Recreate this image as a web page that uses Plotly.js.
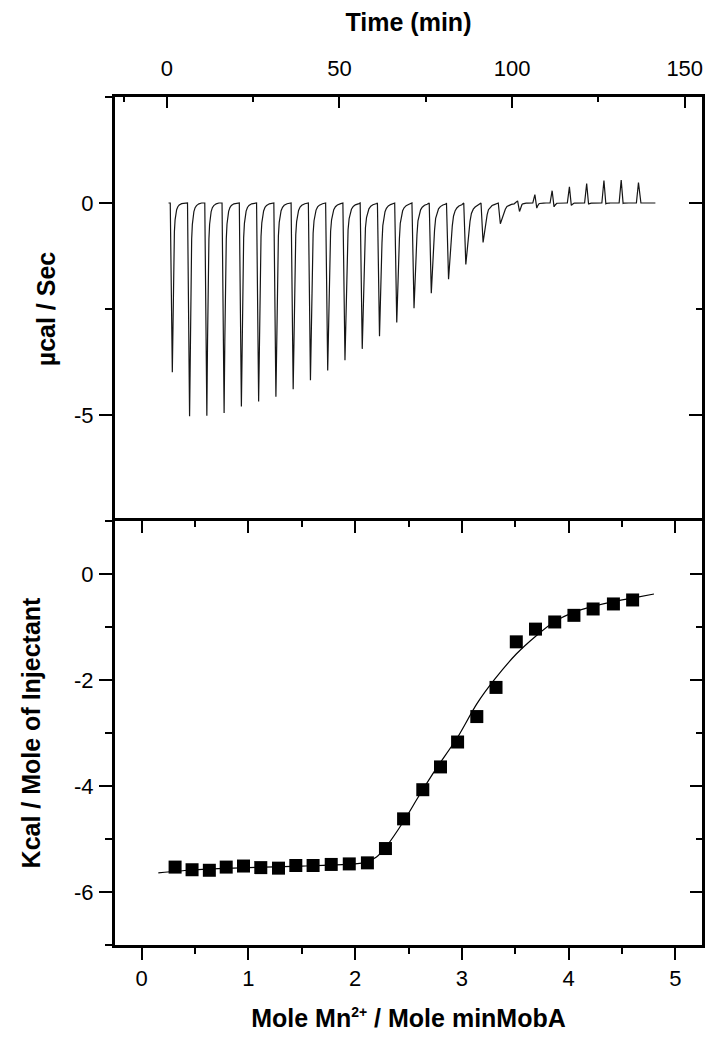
<!DOCTYPE html>
<html>
<head>
<meta charset="utf-8">
<script src="https://cdn.plot.ly/plotly-3.0.1.min.js"></script>
<style>html,body{margin:0;padding:0;background:#fff;}#chart{width:717px;height:1050px;}</style>
</head>
<body>
<div id="chart"></div>
<script>
// ---------- top panel: raw ITC trace ----------
const injTime = [1.6, 6.6, 11.6, 16.6, 21.6, 26.6, 31.6, 36.6, 41.6, 46.6, 51.6, 56.6, 61.6, 66.6,
                 71.6, 76.6, 81.6, 86.6, 91.6, 96.6, 101.6, 106.6, 111.6, 116.6, 121.6, 126.6, 131.6, 136.6];
const peakNeg = [-3.99, -5.03, -5.02, -4.95, -4.80, -4.68, -4.57, -4.39, -4.18, -3.95, -3.71, -3.44, -3.14, -2.82,
                 -2.48, -2.13, -1.80, -1.45, -0.93, -0.49, -0.20, -0.12, -0.09, -0.055, -0.03, -0.02, -0.01, 0];
const peakPos = [0, 0, 0, 0, 0, 0, 0, 0, 0, 0, 0, 0, 0, 0,
                 0, 0, 0, 0, 0, 0, 0.05, 0.20, 0.29, 0.38, 0.46, 0.53, 0.54, 0.48];
const peakWidth = [1.0, 1.0, 1.0, 1.05, 1.1, 1.15, 1.2, 1.25, 1.3, 1.4, 1.5, 1.55, 1.6, 1.7,
                   1.9, 2.1, 2.4, 2.7, 2.6, 3.2, 1.2, 1.0, 1.0, 0.9, 0.8, 0.8, 0.8, 0.8];
// shape of one injection peak (time after peak, fraction of peak depth), read from first peaks
const peakShapeDt   = [0, 0.1, 0.2, 0.3, 0.45, 0.6, 0.8, 1.0, 1.25, 1.6, 2.0, 2.7, 3.5];
const peakShapeFrac = [1, 0.82, 0.65, 0.5, 0.3, 0.17, 0.1, 0.065, 0.04, 0.022, 0.012, 0.004, 0];
const traceStart = 0.5, traceEnd = 141.5;

// ---------- bottom panel: integrated heats ----------
const molarRatio = [0.313, 0.472, 0.634, 0.792, 0.954, 1.116, 1.282, 1.444, 1.606, 1.776, 1.945, 2.115, 2.284,
                    2.454, 2.634, 2.80, 2.96, 3.14, 3.32, 3.51, 3.69, 3.87, 4.05, 4.23, 4.42, 4.60];
const heat = [-5.53, -5.58, -5.59, -5.53, -5.51, -5.54, -5.55, -5.50, -5.50, -5.48, -5.47, -5.45, -5.18,
              -4.62, -4.07, -3.64, -3.17, -2.69, -2.14, -1.28, -1.04, -0.905, -0.78, -0.66, -0.565, -0.49];
const fitX = [0.156, 0.5, 1.0, 1.5, 1.9, 2.1, 2.2, 2.3, 2.45, 2.6, 2.75, 2.96, 3.14, 3.31, 3.51, 3.70, 3.86, 4.05, 4.23, 4.42, 4.61, 4.80];
const fitY = [-5.64, -5.58, -5.54, -5.51, -5.48, -5.44, -5.34, -5.12, -4.68, -4.18, -3.70, -3.08, -2.45, -1.98, -1.51, -1.16, -0.91, -0.72, -0.61, -0.52, -0.45, -0.377];

// ---------- tick labels ----------
const timeTickVals = [0, 50, 100, 150];
const timeTickText = ['0', '50', '100', '150'];
const timeMinor = [-12.5, 25, 75, 125];
const rawTickVals = [0, -5];
const rawTickText = ['0', '-5'];
const rawMinor = [2.5, -2.5, -7.5];
const ratioTickVals = [0, 1, 2, 3, 4, 5];
const ratioTickText = ['0', '1', '2', '3', '4', '5'];
const ratioMinor = [0.5, 1.5, 2.5, 3.5, 4.5];
const heatTickVals = [0, -2, -4, -6];
const heatTickText = ['0', '-2', '-4', '-6'];
const heatMinor = [-1, -3, -5, -7];

// build raw trace
const tx = [traceStart], ty = [0];
for (let i = 0; i < injTime.length; i++) {
  const tp = injTime[i];
  const next = i < injTime.length - 1 ? injTime[i + 1] : traceEnd + 0.6;
  tx.push(tp - 0.6); ty.push(0);
  let t0 = tp;
  if (peakPos[i] > 0) { tx.push(tp); ty.push(peakPos[i]); t0 = tp + 0.55; }
  for (let k = 0; k < peakShapeDt.length; k++) {
    const t = t0 + peakShapeDt[k] * peakWidth[i];
    if (t > next - 0.7) break;
    tx.push(t); ty.push(peakNeg[i] * peakShapeFrac[k]);
  }
}
tx.push(traceEnd); ty.push(0);

const FONT = 'Arial, "Liberation Sans", sans-serif';
const tickFont = {family: FONT, size: 22, color: '#000'};
const titleFont = {family: FONT, size: 25, color: '#000'};

const traces = [
  {x: tx, y: ty, xaxis: 'x2', yaxis: 'y2', type: 'scatter', mode: 'lines',
   line: {color: '#151515', width: 1.2}, hoverinfo: 'skip', showlegend: false},
  {x: fitX, y: fitY, xaxis: 'x', yaxis: 'y', type: 'scatter', mode: 'lines',
   line: {color: '#000', width: 1.2, shape: 'spline', smoothing: 0.8}, hoverinfo: 'skip', showlegend: false},
  {x: molarRatio, y: heat, xaxis: 'x', yaxis: 'y', type: 'scatter', mode: 'markers',
   marker: {symbol: 'square', size: 13, color: '#000'}, hoverinfo: 'skip', showlegend: false},
  {x: [], y: [], xaxis: 'x3', yaxis: 'y3', type: 'scatter', mode: 'markers', hoverinfo: 'skip', showlegend: false},
  {x: [], y: [], xaxis: 'x2', yaxis: 'y4', type: 'scatter', mode: 'markers', hoverinfo: 'skip', showlegend: false}
];

const base = {showgrid: false, zeroline: false, showline: true, linewidth: 3, linecolor: '#000',
              tickcolor: '#000', tickwidth: 2, tickfont: tickFont, fixedrange: true};

const layout = {
  width: 717, height: 1050,
  margin: {l: 115, r: 15, t: 97, b: 105, pad: 0},
  paper_bgcolor: '#fff', plot_bgcolor: '#fff',
  showlegend: false,
  xaxis: Object.assign({}, base, {
    domain: [0, 1], anchor: 'y', range: [-0.25, 5.25], autorange: false,
    tickmode: 'array', tickvals: ratioTickVals, ticktext: ratioTickText,
    ticks: 'outside', ticklen: 12, ticklabelstandoff: 0,
    minor: {tickmode: 'array', tickvals: ratioMinor, ticks: 'outside', ticklen: 6, tickwidth: 2, tickcolor: '#000', showgrid: false},
    title: {text: '<b>Mole Mn<sup><span style="font-size:14px">2+</span></sup> / Mole minMobA</b>', font: titleFont, standoff: 20}
  }),
  xaxis3: Object.assign({}, base, {
    overlaying: 'x', anchor: 'y', side: 'top', range: [-0.25, 5.25], autorange: false,
    tickmode: 'array', tickvals: ratioTickVals, showticklabels: false,
    ticks: 'inside', ticklen: 12,
    minor: {tickmode: 'array', tickvals: ratioMinor, ticks: 'inside', ticklen: 6, tickwidth: 2, tickcolor: '#000', showgrid: false}
  }),
  yaxis: Object.assign({}, base, {
    domain: [0, 0.5], anchor: 'x', range: [-7, 1], autorange: false,
    tickmode: 'array', tickvals: heatTickVals, ticktext: heatTickText,
    ticks: 'outside', ticklen: 13, ticklabelstandoff: 1,
    minor: {tickmode: 'array', tickvals: heatMinor, ticks: 'outside', ticklen: 7, tickwidth: 2, tickcolor: '#000', showgrid: false},
    title: {text: '<b>Kcal / Mole of Injectant</b>', font: titleFont, standoff: 27}
  }),
  yaxis3: Object.assign({}, base, {
    overlaying: 'y', anchor: 'x', side: 'right', range: [-7, 1], autorange: false,
    tickmode: 'array', tickvals: heatTickVals, showticklabels: false,
    ticks: 'inside', ticklen: 12,
    minor: {tickmode: 'array', tickvals: heatMinor, ticks: 'inside', ticklen: 6, tickwidth: 2, tickcolor: '#000', showgrid: false}
  }),
  xaxis2: Object.assign({}, base, {
    domain: [0, 1], anchor: 'y2', side: 'top', range: [-15, 155], autorange: false,
    tickmode: 'array', tickvals: timeTickVals, ticktext: timeTickText,
    ticks: 'inside', ticklen: 11, ticklabelstandoff: 9,
    minor: {tickmode: 'array', tickvals: timeMinor, ticks: 'inside', ticklen: 5, tickwidth: 2, tickcolor: '#000', showgrid: false},
    title: {text: '<b>Time (min)</b>', font: titleFont, standoff: 18}
  }),
  yaxis2: Object.assign({}, base, {
    domain: [0.5, 1], anchor: 'x2', range: [-7.5, 2.5], autorange: false,
    tickmode: 'array', tickvals: rawTickVals, ticktext: rawTickText,
    ticks: 'outside', ticklen: 13, ticklabelstandoff: 1,
    minor: {tickmode: 'array', tickvals: rawMinor, ticks: 'outside', ticklen: 7, tickwidth: 2, tickcolor: '#000', showgrid: false},
    title: {text: '<b>µcal / Sec</b>', font: titleFont, standoff: 12}
  }),
  yaxis4: Object.assign({}, base, {
    overlaying: 'y2', anchor: 'x2', side: 'right', range: [-7.5, 2.5], autorange: false,
    tickmode: 'array', tickvals: rawTickVals, showticklabels: false,
    ticks: 'inside', ticklen: 13,
    minor: {tickmode: 'array', tickvals: rawMinor, ticks: 'inside', ticklen: 6, tickwidth: 2, tickcolor: '#000', showgrid: false}
  })
};

Plotly.newPlot('chart', traces, layout, {staticPlot: true, displayModeBar: false});
</script>
</body>
</html>
